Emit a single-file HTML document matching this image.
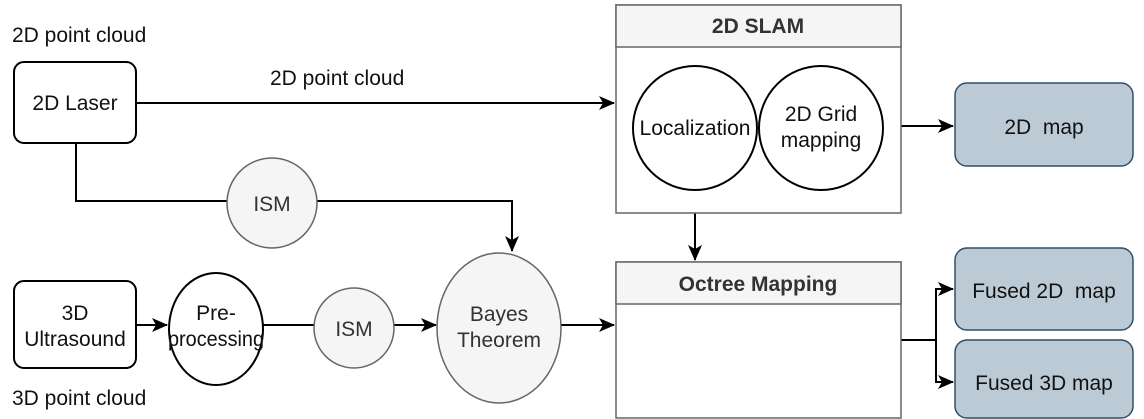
<!DOCTYPE html>
<html><head><meta charset="utf-8"><style>body{margin:0;background:#fff}svg{display:block}text{font-family:"Liberation Sans",Arial,sans-serif;font-size:21px;fill:#111}</style></head><body>
<svg width="1144" height="419" viewBox="0 0 1144 419" xmlns="http://www.w3.org/2000/svg">
<defs><marker id="a" markerWidth="16" markerHeight="14" refX="15" refY="7" orient="auto" markerUnits="userSpaceOnUse"><path d="M0,0 L16,7 L0,14 L4,7 Z" fill="#000"/></marker></defs>
<g fill="none" stroke="#000" stroke-width="2">
<line x1="136" y1="103" x2="614" y2="103" marker-end="url(#a)"/>
<polyline points="76,143 76,201 227,201"/>
<polyline points="317,201 512,201 512,251" marker-end="url(#a)"/>
<line x1="136" y1="325" x2="167" y2="325" marker-end="url(#a)"/>
<line x1="263" y1="325" x2="314" y2="325"/>
<line x1="394" y1="325" x2="436" y2="325" marker-end="url(#a)"/>
<line x1="561" y1="325" x2="614" y2="325" marker-end="url(#a)"/>
<line x1="695" y1="190" x2="695" y2="260" marker-end="url(#a)"/>
<line x1="883" y1="126" x2="953" y2="126" marker-end="url(#a)"/>
<polyline points="901,340 936,340 936,289 953,289" marker-end="url(#a)"/>
<polyline points="936,340 936,382 953,382" marker-end="url(#a)"/>
</g>
<rect x="616" y="5" width="285" height="208" fill="#fff" stroke="#666" stroke-width="1.5"/>
<rect x="616" y="5" width="285" height="42" fill="#f5f5f5" stroke="#666" stroke-width="1.5"/>
<text x="758" y="33" text-anchor="middle" font-weight="bold" style="fill:#333;font-size:21px">2D SLAM</text>
<rect x="616" y="262" width="285" height="156" fill="#fff" stroke="#666" stroke-width="1.5"/>
<rect x="616" y="262" width="285" height="42" fill="#f5f5f5" stroke="#666" stroke-width="1.5"/>
<text x="758" y="291" text-anchor="middle" font-weight="bold" style="fill:#333;font-size:21px">Octree Mapping</text>
<g stroke="#000" stroke-width="2" fill="#fff">
<circle cx="695" cy="128" r="62"/><circle cx="821" cy="128" r="62"/>
<rect x="14" y="62" width="122" height="81" rx="10"/>
<rect x="14" y="281" width="122" height="87" rx="10"/>
<ellipse cx="216" cy="329" rx="47" ry="56"/>
</g>
<g stroke="#666" stroke-width="1.5" fill="#f5f5f5">
<circle cx="272" cy="203" r="45"/><circle cx="354" cy="328" r="40"/>
<ellipse cx="499" cy="328" rx="62" ry="75"/>
</g>
<g fill="#bccad6" stroke="#2f4f6a" stroke-width="1.5">
<rect x="955" y="83" width="178" height="83" rx="12"/>
<rect x="955" y="248" width="178" height="82" rx="12"/>
<rect x="955" y="340" width="178" height="78" rx="12"/>
</g>
<text x="12" y="42">2D point cloud</text>
<text x="270" y="85">2D point cloud</text>
<text x="75" y="110" text-anchor="middle">2D Laser</text>
<text x="75" y="320" text-anchor="middle">3D</text><text x="75" y="346" text-anchor="middle">Ultrasound</text>
<text x="12" y="405">3D point cloud</text>
<text x="216" y="320" text-anchor="middle">Pre-</text><text x="216" y="346" text-anchor="middle" textLength="96" lengthAdjust="spacingAndGlyphs">processing</text>
<text x="272" y="211" text-anchor="middle" style="fill:#333">ISM</text>
<text x="354" y="336" text-anchor="middle" style="fill:#333">ISM</text>
<text x="499" y="321" text-anchor="middle" style="fill:#333">Bayes</text><text x="499" y="347" text-anchor="middle" style="fill:#333">Theorem</text>
<text x="695" y="135" text-anchor="middle">Localization</text>
<text x="821" y="121" text-anchor="middle">2D Grid</text><text x="821" y="147" text-anchor="middle">mapping</text>
<text x="1044" y="134" text-anchor="middle" xml:space="preserve">2D  map</text>
<text x="1044" y="298" text-anchor="middle" xml:space="preserve">Fused 2D  map</text>
<text x="1044" y="390" text-anchor="middle">Fused 3D map</text>
</svg></body></html>
